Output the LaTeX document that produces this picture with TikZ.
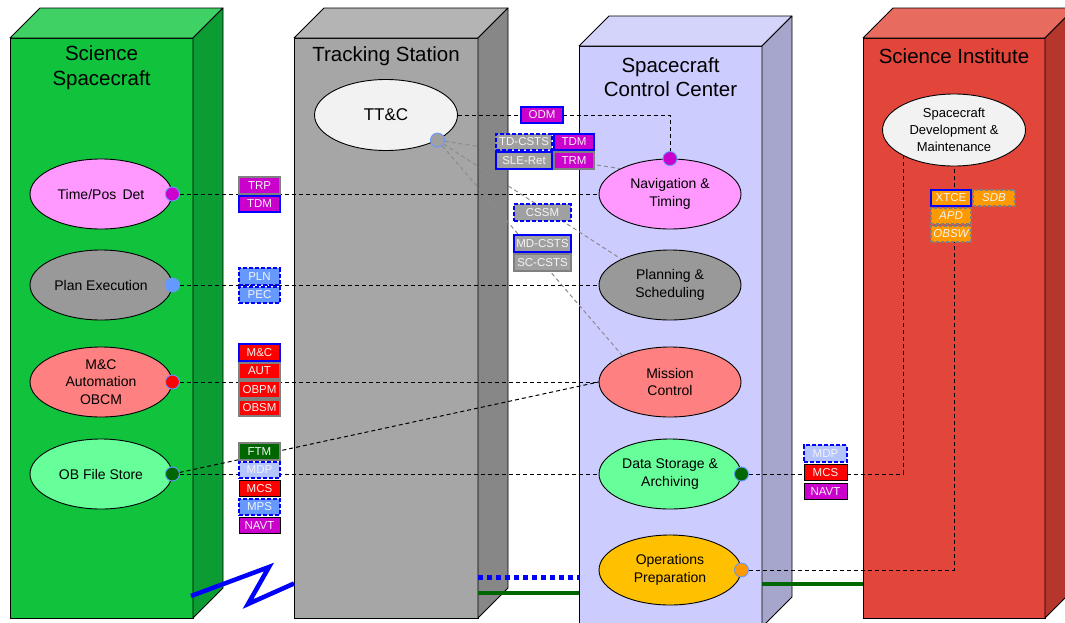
\documentclass[tikz,border=0pt]{standalone}
\usepackage{fontspec}
\setmainfont{Liberation Sans}
\usetikzlibrary{shapes.geometric,calc}
\definecolor{ssfront}{HTML}{10C23C}
\definecolor{sstop}{HTML}{3FD163}
\definecolor{ssright}{HTML}{0B9D33}
\definecolor{tsfront}{HTML}{A6A6A6}
\definecolor{tstop}{HTML}{B4B4B4}
\definecolor{tsright}{HTML}{878787}
\definecolor{sccfront}{HTML}{CCCCFF}
\definecolor{scctop}{HTML}{D4D4FA}
\definecolor{sccright}{HTML}{A6A6CC}
\definecolor{sifront}{HTML}{E2463A}
\definecolor{sitop}{HTML}{E86B60}
\definecolor{siright}{HTML}{B5362D}
\definecolor{cmag}{HTML}{CC00CC}
\definecolor{cpec}{HTML}{6699FF}
\definecolor{clblue}{HTML}{B4C4FF}
\definecolor{cred}{HTML}{FF0000}
\definecolor{cdkgreen}{HTML}{006600}
\definecolor{corange}{HTML}{FF9900}
\definecolor{cgraylbl}{HTML}{A0A0A0}
\definecolor{gborder}{HTML}{808080}
\definecolor{gline}{HTML}{8C8C8C}
\definecolor{cpink}{HTML}{FF99FF}
\definecolor{cgrayell}{HTML}{999999}
\definecolor{csalmon}{HTML}{FF8080}
\definecolor{clgreen}{HTML}{66FF99}
\definecolor{cyellow}{HTML}{FFC000}
\definecolor{cwhiteell}{HTML}{F2F2F2}
\definecolor{portline}{HTML}{6699FF}
\definecolor{lbltext}{HTML}{F4F4F4}
\tikzset{
  frontbox/.style={rectangle, draw=black, line width=0.8pt, inner sep=0pt, outer sep=0pt},
  face/.style={draw=black, line width=0.8pt, line join=round},
  title/.style={font=\fontsize{20.5}{24.5}\selectfont, align=center, text=black},
  ell/.style={ellipse, draw=black, line width=0.9pt, minimum width=142pt, minimum height=70pt, inner sep=0pt, align=center, font=\fontsize{14}{17.5}\selectfont},
  port/.style={circle, draw=portline, line width=0.9pt, minimum size=14pt, inner sep=0pt},
  conn/.style={draw=black, line width=1pt, dash pattern=on 4pt off 3pt},
  gconn/.style={draw=gline, line width=1pt, dash pattern=on 4pt off 3pt},
  lbl/.style={rectangle, inner sep=0pt, minimum width=41pt, minimum height=16.3pt, line width=2.2pt, text=lbltext, font=\fontsize{11.5}{13}\selectfont},
  bsolid/.style={draw=blue},
  bdash/.style={draw=blue, dash pattern=on 4pt off 2pt},
  gsolid/.style={draw=gborder},
  gdash/.style={draw=gborder, dash pattern=on 3pt off 2pt},
  kthin/.style={draw=black, line width=0.8pt},
  ital/.style={font=\fontsize{11.5}{13}\selectfont\itshape},
  ziglink/.style={draw=blue, line width=4.5pt, line join=miter},
  dotlink/.style={draw=blue, line width=5pt, dash pattern=on 5pt off 4pt},
  greenlink/.style={draw=cdkgreen, line width=4.3pt},
}
\begin{document}
\begin{tikzpicture}[x=1pt,y=-1pt]
\clip (0,0) rectangle (1065,622);
\fill[white] (0,0) rectangle (1065,622);

% ---------- 3D boxes ----------
\node[frontbox, fill=ssfront, minimum width=183pt, minimum height=580pt] (ss) at (101.5,328) {};
\filldraw[face, fill=sstop] (ss.north west) -- ++(30,-30) -- ($(ss.north east)+(30,-30)$) -- (ss.north east) -- cycle;
\filldraw[face, fill=ssright] (ss.north east) -- ++(30,-30) -- ($(ss.south east)+(30,-30)$) -- (ss.south east) -- cycle;

\node[frontbox, fill=tsfront, minimum width=184pt, minimum height=580pt] (ts) at (386,328) {};
\filldraw[face, fill=tstop] (ts.north west) -- ++(30,-30) -- ($(ts.north east)+(30,-30)$) -- (ts.north east) -- cycle;
\filldraw[face, fill=tsright] (ts.north east) -- ++(30,-30) -- ($(ts.south east)+(30,-30)$) -- (ts.south east) -- cycle;

\node[frontbox, fill=sccfront, minimum width=183pt, minimum height=581pt] (scc) at (670.5,336.5) {};
\filldraw[face, fill=scctop] (scc.north west) -- ++(30,-30) -- ($(scc.north east)+(30,-30)$) -- (scc.north east) -- cycle;
\filldraw[face, fill=sccright] (scc.north east) -- ++(30,-30) -- ($(scc.south east)+(30,-30)$) -- (scc.south east) -- cycle;

\node[frontbox, fill=sifront, minimum width=182pt, minimum height=580pt] (si) at (954,328) {};
\filldraw[face, fill=sitop] (si.north west) -- ++(30,-30) -- ($(si.north east)+(30,-30)$) -- (si.north east) -- cycle;
\filldraw[face, fill=siright] (si.north east) -- ++(30,-30) -- ($(si.south east)+(30,-30)$) -- (si.south east) -- cycle;

% ---------- titles ----------
\node[title] (tss) at (101.5,67.5) {Science\\Spacecraft};
\node[title] (tts) at (386,56) {Tracking Station};
\node[title] (tscc) at (670.5,77) {Spacecraft\\Control Center};
\node[title] (tsi) at (954,56) {Science Institute};

% ---------- bottom links ----------
\coordinate (z0) at (191,596);
\coordinate (z1) at (269,567);
\coordinate (z2) at (248,604);
\coordinate (z3) at (294,583.5);
\draw[ziglink] (z0) -- (z1) -- (z2) -- (z3);
\coordinate (bd0) at (478,577);
\coordinate (bd1) at (579,577);
\draw[dotlink] (bd0) -- (bd1);
\coordinate (gl0) at (478,593);
\coordinate (gl1) at (579,593);
\draw[greenlink] (gl0) -- (gl1);
\coordinate (gr0) at (762,584);
\coordinate (gr1) at (863,584);
\draw[greenlink] (gr0) -- (gr1);

% ---------- ellipses ----------
\node[ell, fill=cpink] (tpd) at (101,194) {Time/Pos\, Det};
\node[ell, fill=cgrayell] (pex) at (101,285) {Plan Execution};
\node[ell, fill=csalmon] (mca) at (101,382) {M\&C\\Automation\\OBCM};
\node[ell, fill=clgreen] (obfs) at (101,474) {OB File Store};
\node[ell, fill=cwhiteell, minimum width=143pt, minimum height=71pt, font=\fontsize{17}{20}\selectfont] (ttc) at (386,115) {TT\&C};
\node[ell, fill=cpink] (nav) at (670,194) {Navigation \&\\Timing};
\node[ell, fill=cgrayell] (pls) at (670,285) {Planning \&\\Scheduling};
\node[ell, fill=csalmon] (mcn) at (670,382) {Mission\\Control};
\node[ell, fill=clgreen] (dsa) at (670,474) {Data Storage \&\\Archiving};
\node[ell, fill=cyellow] (opp) at (670,570) {Operations\\Preparation};
\node[ell, fill=cwhiteell, minimum width=143pt, minimum height=72pt, font=\fontsize{13}{17}\selectfont] (scd) at (954,130) {Spacecraft\\Development \&\\Maintenance};

% ---------- ports ----------
\node[port, fill=cmag] (p1) at (tpd.east) {};
\node[port, fill=cpec] (p2) at (pex.east) {};
\node[port, fill=cred] (p3) at (mca.east) {};
\node[port, fill=cdkgreen] (p4) at (obfs.east) {};
\node[port, fill=cgraylbl] (p5) at (ttc.-26) {};
\node[port, fill=cmag] (p6) at (nav.north) {};
\node[port, fill=cdkgreen] (p7) at (dsa.east) {};
\node[port, fill=corange] (p8) at (opp.east) {};

% ---------- connectors ----------
\draw[conn] (p1) -- (nav.west);
\draw[conn] (p2) -- (pls.west);
\draw[conn] (p3) -- (mcn.west);
\draw[conn] (p4) -- (dsa.west);
\draw[conn] (p4) -- (mcn.west);
\draw[conn] (ttc.east) -| (p6);
\draw[gconn] (p5) -- (nav.153);
\draw[gconn] (p5) -- (pls.152);
\draw[gconn] (p5) -- (mcn.151);
\draw[conn] (p7) -| (scd.south west);
\draw[conn] (p8) -| (scd.south);

% ---------- labels: spacecraft side ----------
\node[lbl, fill=cmag, gsolid] (trp) at (259.5,185.5) {TRP};
\node[lbl, fill=cmag, bsolid] (tdma) at (259.5,204) {TDM};
\node[lbl, fill=cpec, bdash] (pln) at (259.5,276.5) {PLN};
\node[lbl, fill=cpec, bdash] (pec) at (259.5,295) {PEC};
\node[lbl, fill=cred, gsolid] (aut) at (259.5,371) {AUT};
\node[lbl, fill=cred, gsolid] (obpm) at (259.5,389.5) {OBPM};
\node[lbl, fill=cred, gsolid] (obsm) at (259.5,408) {OBSM};
\node[lbl, fill=cred, bsolid] (mcl) at (259.5,352.5) {M\&C};
\node[lbl, fill=cdkgreen, gsolid] (ftm) at (259.5,451.5) {FTM};
\node[lbl, fill=clblue, bdash] (mdpa) at (259.5,470) {MDP};
\node[lbl, fill=cred, kthin] (mcsa) at (259.5,488.5) {MCS};
\node[lbl, fill=cpec, bdash] (mps) at (259.5,507) {MPS};
\node[lbl, fill=cmag, kthin] (navta) at (259.5,525.5) {NAVT};

% ---------- labels: station / control centre gap ----------
\node[lbl, fill=cmag, bsolid, minimum width=42pt] (odm) at (542,115) {ODM};
\node[lbl, fill=cgraylbl, bdash, minimum width=56pt] (tdcsts) at (524,142) {TD-CSTS};
\node[lbl, fill=cmag, gsolid, minimum width=40pt] (trm) at (574,160.5) {TRM};
\node[lbl, fill=cmag, bsolid, minimum width=40pt] (tdmb) at (574,142) {TDM};
\node[lbl, fill=cgraylbl, bsolid, minimum width=56pt] (sleret) at (524,160.5) {SLE-Ret};
\node[lbl, fill=cgraylbl, bdash, minimum width=57pt] (cssm) at (542.5,212.5) {CSSM};
\node[lbl, fill=cgraylbl, gsolid, minimum width=57pt] (sccsts) at (542.5,262.5) {SC-CSTS};
\node[lbl, fill=cgraylbl, bsolid, minimum width=57pt] (mdcsts) at (542.5,243.5) {MD-CSTS};

% ---------- labels: control centre / institute gap ----------
\node[lbl, fill=clblue, bdash, minimum width=43pt] (mdpb) at (825.5,453.5) {MDP};
\node[lbl, fill=cred, kthin, minimum width=43pt] (mcsb) at (825.5,472.5) {MCS};
\node[lbl, fill=cmag, kthin, minimum width=43pt] (navtb) at (825.5,491.5) {NAVT};

% ---------- labels: institute ----------
\node[lbl, fill=corange, gdash, ital, minimum width=42pt] (sdb) at (994,198) {SDB};
\node[lbl, fill=corange, gdash, ital, minimum width=40pt] (apd) at (951,216) {APD};
\node[lbl, fill=corange, gdash, ital, minimum width=40pt] (obsw) at (951,234) {OBSW};
\node[lbl, fill=corange, bsolid, minimum width=40pt] (xtce) at (951,198) {XTCE};
\end{tikzpicture}
\end{document}
